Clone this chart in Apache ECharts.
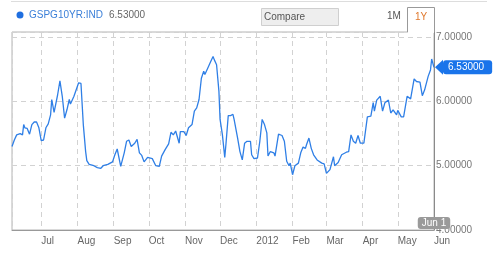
<!DOCTYPE html>
<html><head><meta charset="utf-8">
<script src="https://cdn.jsdelivr.net/npm/echarts@6/dist/echarts.min.js"></script>
<style>html,body{margin:0;padding:0;background:#fff}#c{width:500px;height:254px}</style>
</head><body><div id="c"></div>
<script>
const ticker = 'GSPG10YR:IND';
const dates = ['2011-06-06','2011-06-08','2011-06-10','2011-06-13','2011-06-15','2011-06-16','2011-06-17','2011-06-19','2011-06-21','2011-06-23','2011-06-25','2011-06-27','2011-06-29',
'2011-07-01','2011-07-03','2011-07-05','2011-07-07','2011-07-09','2011-07-10','2011-07-12','2011-07-13','2011-07-15','2011-07-17','2011-07-19','2011-07-21','2011-07-23','2011-07-25','2011-07-26','2011-07-29',
'2011-08-02','2011-08-04','2011-08-06','2011-08-08','2011-08-09','2011-08-11','2011-08-15','2011-08-18','2011-08-21','2011-08-23','2011-08-27','2011-08-31',
'2011-09-02','2011-09-04','2011-09-07','2011-09-10','2011-09-12','2011-09-14','2011-09-16','2011-09-19','2011-09-21','2011-09-23','2011-09-25','2011-09-27','2011-09-30',
'2011-10-01','2011-10-04','2011-10-07','2011-10-10','2011-10-12','2011-10-15','2011-10-18','2011-10-20','2011-10-22','2011-10-24','2011-10-27','2011-10-28','2011-10-31',
'2011-11-02','2011-11-04','2011-11-07','2011-11-09','2011-11-11','2011-11-13','2011-11-15','2011-11-17','2011-11-18','2011-11-21','2011-11-23','2011-11-25','2011-11-26','2011-11-28','2011-11-30',
'2011-12-01','2011-12-03','2011-12-05','2011-12-06','2011-12-08','2011-12-10','2011-12-12','2011-12-13','2011-12-16','2011-12-18','2011-12-20','2011-12-22','2011-12-24','2011-12-27','2011-12-28','2011-12-30',
'2012-01-02','2012-01-04','2012-01-06','2012-01-08','2012-01-10','2012-01-11','2012-01-13','2012-01-16','2012-01-17','2012-01-20','2012-01-23','2012-01-25','2012-01-27','2012-01-29','2012-01-30',
'2012-02-01','2012-02-03','2012-02-06','2012-02-08','2012-02-10','2012-02-12','2012-02-13','2012-02-15','2012-02-17','2012-02-19','2012-02-22','2012-02-26','2012-02-28',
'2012-03-01','2012-03-04','2012-03-07','2012-03-08','2012-03-11','2012-03-14','2012-03-18','2012-03-20','2012-03-22','2012-03-24','2012-03-26','2012-03-28','2012-03-30',
'2012-04-02','2012-04-05','2012-04-08','2012-04-10','2012-04-11','2012-04-13','2012-04-16','2012-04-18','2012-04-20','2012-04-23','2012-04-25','2012-04-27','2012-04-30',
'2012-05-01','2012-05-04','2012-05-06','2012-05-09','2012-05-12','2012-05-15','2012-05-17','2012-05-20','2012-05-22','2012-05-24','2012-05-27','2012-05-29','2012-05-30',
'2012-06-01'];
const values = [5.30,5.40,5.48,5.50,5.48,5.64,5.59,5.58,5.49,5.64,5.68,5.68,5.59,
5.39,5.40,5.59,5.65,5.79,6.03,5.83,5.82,6.10,6.32,6.08,5.74,5.87,6.03,5.96,6.08,
6.29,6.28,5.64,5.22,5.08,5.02,5.00,4.97,4.96,5.00,5.02,5.06,
5.17,5.26,4.99,5.20,5.38,5.40,5.30,5.35,5.41,5.20,5.16,5.06,5.13,
5.14,5.11,5.00,4.99,5.15,5.25,5.34,5.52,5.48,5.54,5.35,5.53,5.53,
5.47,5.59,5.64,5.85,5.90,6.03,6.36,6.47,6.42,6.54,6.62,6.70,6.65,6.57,6.16,
5.72,5.48,5.13,5.33,5.78,5.78,5.80,5.72,5.43,5.22,5.09,5.35,5.38,5.38,5.17,5.11,
5.12,5.38,5.72,5.64,5.51,5.15,5.22,5.20,5.15,5.49,5.47,5.38,5.07,5.00,5.04,
4.86,5.00,5.04,5.20,5.29,5.27,5.33,5.43,5.27,5.17,5.09,5.04,5.03,
4.88,4.94,5.14,5.00,5.05,5.17,5.21,5.22,5.48,5.38,5.35,5.47,5.35,
5.35,5.76,5.77,5.98,5.85,6.02,6.08,5.85,5.98,6.02,5.82,5.87,5.79,
5.86,5.76,5.76,6.08,6.04,6.35,6.31,6.30,6.09,6.18,6.39,6.49,6.66,
6.53];
const monthLabels = ['Jan','Feb','Mar','Apr','May','Jun','Jul','Aug','Sep','Oct','Nov','Dec'];
const xStart = '2011-06-06';
const xEnd = '2012-06-01';
const yMin = 4, yMax = 7.08, yStep = 1;

function parseD(s){const p=s.split('-').map(Number);return new Date(p[0],p[1]-1,p[2]).getTime();}
const lastValue = values[values.length-1];
const lastDate = parseD(dates[dates.length-1]);
const seriesData = dates.map((d,i)=>[parseD(d), values[i]]);
const FONT = 'Liberation Sans, Arial, sans-serif';
const FS = 10;
const DAY = 86400000;

const chart = echarts.init(document.getElementById('c'), null, {renderer:'canvas'});
chart.setOption({
  animation:false,
  backgroundColor:'#fff',
  textStyle:{fontFamily:FONT},
  axisPointer:{triggerOn:'none'},
  grid:{left:12, right:66, top:32, bottom:24, show:true, borderColor:'#b4b4b4', borderWidth:1},
  xAxis:{
    type:'time', min:parseD(xStart), max:parseD(xEnd),
    splitNumber:12, minInterval:28*DAY, maxInterval:31*DAY,
    axisLine:{show:true, lineStyle:{color:'#999'}},
    axisTick:{show:false},
    splitLine:{show:true, lineStyle:{color:'#d2d2d2', type:[5,4], width:1}},
    axisLabel:{
      color:'#666', fontSize:FS, fontFamily:FONT, align:'left', margin:6, hideOverlap:false,
      formatter:function(v){const d=new Date(v); if(d.getDate()!==1) return ''; return d.getMonth()===0? String(d.getFullYear()) : monthLabels[d.getMonth()];}
    },
    axisPointer:{
      show:true, status:'show', value:lastDate, triggerTooltip:false, type:'line',
      lineStyle:{color:'#8a8a8a', width:1, type:'solid'},
      label:{show:true, backgroundColor:'#9a9a9a', color:'#fff', fontSize:FS, fontFamily:FONT, padding:[1,4,1,4], margin:-13,
        formatter:function(p){const d=new Date(p.value); return monthLabels[d.getMonth()]+' '+d.getDate();}}
    }
  },
  yAxis:{
    type:'value', position:'right', min:yMin, max:yMax, interval:yStep,
    axisLine:{show:true, lineStyle:{color:'#8a8a8a'}},
    axisTick:{show:false},
    splitLine:{show:true, lineStyle:{color:'#d2d2d2', type:[5,4], width:1}},
    axisLabel:{color:'#777', fontSize:FS, fontFamily:FONT, margin:2, showMaxLabel:false, padding:[4,0,0,0],
      formatter:function(v){return v.toFixed(5);}},
    axisPointer:{
      show:true, status:'show', value:lastValue, triggerTooltip:false, type:'line',
      lineStyle:{color:'rgba(0,0,0,0)', width:0},
      label:{show:true, backgroundColor:'#1a74ea', color:'#fff', fontSize:FS, fontFamily:FONT, padding:[2,8,2,5], margin:9,
        formatter:function(p){return Number(p.value).toFixed(5);}}
    }
  },
  series:[{
    type:'line', data:seriesData, showSymbol:false, symbol:'none',
    lineStyle:{color:'#2f7fe6', width:1.3},
    markPoint:{
      symbol:'triangle', symbolSize:[15,8], symbolRotate:90, symbolOffset:[5,0],
      itemStyle:{color:'#1a74ea'}, label:{show:false}, silent:true,
      data:[{coord:[lastDate, lastValue]}]
    }
  }],
  graphic:[
    {type:'line', shape:{x1:11, y1:1.5, x2:487, y2:1.5}, style:{stroke:'#dddddd', lineWidth:1}, z:100},
    {type:'circle', shape:{cx:20, cy:15, r:3.5}, style:{fill:'#1f6fe0'}, z:100},
    {type:'text', x:29, y:15, style:{text:ticker, fill:'#3a7fd8', font:FS+'px '+FONT, verticalAlign:'middle'}, z:100},
    {type:'text', x:109, y:15, style:{text:lastValue.toFixed(5), fill:'#666', font:FS+'px '+FONT, verticalAlign:'middle'}, z:100},
    {type:'rect', shape:{x:261.5, y:8.5, width:77, height:17}, style:{fill:'#eeeeee', stroke:'#cfcfcf', lineWidth:1}, z:100},
    {type:'text', x:264, y:17, style:{text:'Compare', fill:'#555', font:FS+'px '+FONT, verticalAlign:'middle'}, z:100},
    {type:'text', x:387, y:16, style:{text:'1M', fill:'#555', font:FS+'px '+FONT, verticalAlign:'middle'}, z:100},
    {type:'line', shape:{x1:408, y1:32, x2:434, y2:32}, style:{stroke:'#ffffff', lineWidth:2}, z:100},
    {type:'polyline', shape:{points:[[407.5,32],[407.5,7.5],[434.5,7.5],[434.5,32]]}, style:{stroke:'#999', fill:null, lineWidth:1}, z:101},
    {type:'text', x:415, y:17, style:{text:'1Y', fill:'#e0782c', font:FS+'px '+FONT, verticalAlign:'middle'}, z:101}
  ]
});
</script></body></html>
